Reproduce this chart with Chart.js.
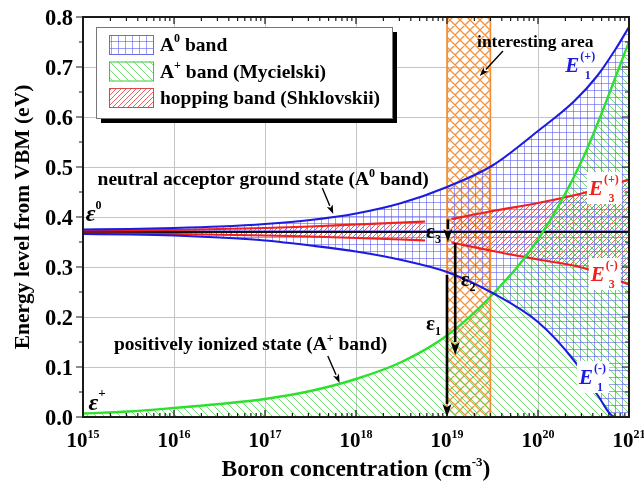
<!DOCTYPE html>
<html>
<head>
<meta charset="utf-8">
<script src="https://cdn.jsdelivr.net/npm/chart.js@4.4.1/dist/chart.umd.min.js"></script>
<style>
  html, body { margin: 0; padding: 0; background: #ffffff; }
  canvas { display: block; }
</style>
</head>
<body>
<canvas id="chart" width="644" height="490"></canvas>
<script>
// ---- data (x values are log10 of the boron concentration in cm^-3, y in eV) ----
const xTickExponents = [15, 16, 17, 18, 19, 20, 21];
const yTickLabels = ['0.0', '0.1', '0.2', '0.3', '0.4', '0.5', '0.6', '0.7', '0.8'];

// A0 band edges E1(+) / E1(-)
const a0X     = [15, 15.5, 16, 16.5, 17, 17.5, 18, 18.5, 19, 19.5, 20, 20.4, 20.65, 20.85, 21];
const e1Upper = [0.375, 0.376, 0.378, 0.381, 0.386, 0.394, 0.407, 0.428, 0.46, 0.503, 0.572, 0.632, 0.682, 0.735, 0.78];
const e1Lower = [0.366, 0.365, 0.363, 0.359, 0.353, 0.343, 0.331, 0.314, 0.29, 0.248, 0.19, 0.112, 0.045, 0.0, 0.0];

// A+ band (Mycielski)
const aPlusX = [15, 15.5, 16, 16.5, 17, 17.5, 18, 18.5, 19, 19.5, 20, 20.5, 21];
const aPlusE = [0.007, 0.011, 0.018, 0.026, 0.036, 0.052, 0.076, 0.11, 0.163, 0.245, 0.355, 0.52, 0.75];

// hopping band (Shklovskii), below and above the interesting area
const hopLowX      = [15, 16, 17, 17.5, 18, 18.5, 18.76];
const hopLowUpper  = [0.373, 0.374, 0.378, 0.381, 0.385, 0.389, 0.391];
const hopLowLower  = [0.367, 0.366, 0.363, 0.361, 0.358, 0.355, 0.353];
const hopHighX     = [19.05, 19.5, 20, 20.5, 21];
const hopHighUpper = [0.396, 0.412, 0.428, 0.448, 0.475];
const hopHighLower = [0.349, 0.332, 0.315, 0.298, 0.265];

// isolated acceptor ground level and the highlighted concentration window
const groundLevel = 0.37;
const interestingRange = [19, 19.477];

// energy gaps marked at N = 1e19 (eps1, eps2, eps3)
const gapX    = [19, 19.09, 19.01];
const gapFrom = [0.284, 0.348, 0.395];
const gapTo   = [0.0, 0.124, 0.35];

// ---- helpers ----
const pts = (xs, ys) => xs.map((e, i) => ({ x: Math.pow(10, e), y: ys[i] }));
const baseCtx = document.getElementById('chart').getContext('2d');

function hatch(size, color, width, kinds) {
  const cv = document.createElement('canvas');
  cv.width = cv.height = size;
  const g = cv.getContext('2d');
  g.strokeStyle = color;
  g.lineWidth = width;
  g.beginPath();
  kinds.forEach(k => {
    if (k === 'h') { g.moveTo(0, size - 0.5); g.lineTo(size, size - 0.5); }
    if (k === 'v') { g.moveTo(size - 0.5, 0); g.lineTo(size - 0.5, size); }
    if (k === '/') { [-size, 0, size].forEach(o => { g.moveTo(o, size); g.lineTo(o + size, 0); }); }
    if (k === '\\') { [-size, 0, size].forEach(o => { g.moveTo(o, 0); g.lineTo(o + size, size); }); }
  });
  g.stroke();
  return baseCtx.createPattern(cv, 'repeat');
}

const BLUE = '#1c1ce0', GREEN = '#2ee02e', RED = '#ee2020', ORANGE = '#f08c34';
const gridPattern   = hatch(7, 'rgba(95,95,240,0.6)', 1, ['h', 'v']);
const greenPattern  = hatch(8, 'rgba(70,210,70,0.75)', 1, ['\\']);
const redPattern    = hatch(5, 'rgba(235,55,55,0.8)', 1, ['/']);
const orangePattern = hatch(10, 'rgba(240,140,52,0.95)', 1.3, ['/', '\\']);

const SERIF = '"Liberation Serif", "Times New Roman", serif';

// draws a run of text pieces: [text, size, dy, style]
function rich(ctx, x, y, parts, align, color) {
  let total = 0;
  const widths = parts.map(p => {
    ctx.font = (p[3] || 'bold') + ' ' + p[1] + 'px ' + SERIF;
    const w = ctx.measureText(p[0]).width;
    total += w;
    return w;
  });
  let cx = align === 'center' ? x - total / 2 : (align === 'right' ? x - total : x);
  ctx.textAlign = 'left';
  ctx.textBaseline = 'alphabetic';
  ctx.fillStyle = color || '#000';
  parts.forEach((p, i) => {
    ctx.font = (p[3] || 'bold') + ' ' + p[1] + 'px ' + SERIF;
    ctx.fillText(p[0], cx, y + (p[2] || 0));
    cx += widths[i];
  });
  return total;
}

function arrow(ctx, x1, y1, x2, y2, lw, hl, hw) {
  const a = Math.atan2(y2 - y1, x2 - x1);
  const bx = x2 - hl * Math.cos(a), by = y2 - hl * Math.sin(a);
  ctx.strokeStyle = '#000';
  ctx.fillStyle = '#000';
  ctx.lineWidth = lw;
  ctx.beginPath();
  ctx.moveTo(x1, y1);
  ctx.lineTo(bx, by);
  ctx.stroke();
  ctx.beginPath();
  ctx.moveTo(x2, y2);
  ctx.lineTo(bx + hw * Math.sin(a), by - hw * Math.cos(a));
  ctx.lineTo(bx + hl * 0.25 * Math.cos(a), by + hl * 0.25 * Math.sin(a));
  ctx.lineTo(bx - hw * Math.sin(a), by + hw * Math.cos(a));
  ctx.closePath();
  ctx.fill();
}

// E label with stacked superscript and subscript
function energyLabel(ctx, x, cy, sup, sub, color, bg) {
  ctx.font = 'italic bold 21px ' + SERIF;
  const wE = ctx.measureText('E').width;
  ctx.font = 'bold 12px ' + SERIF;
  const wS = Math.max(ctx.measureText(sup).width, ctx.measureText(sub).width);
  if (bg) {
    ctx.fillStyle = '#fff';
    ctx.fillRect(x - 2, cy - 16, wE + wS + 6, 32);
  }
  ctx.fillStyle = color;
  ctx.textAlign = 'left';
  ctx.textBaseline = 'alphabetic';
  ctx.font = 'italic bold 21px ' + SERIF;
  ctx.fillText('E', x, cy + 7);
  ctx.font = 'bold 12px ' + SERIF;
  ctx.textAlign = 'center';
  ctx.fillText(sup, x + wE + wS / 2 + 1, cy - 5);
  ctx.fillText(sub, x + wE + wS / 2 + 1, cy + 14);
}

// ---- decorations: frame, ticks, labels, notes, legend ----
const decorations = {
  id: 'decorations',
  afterDraw(chart) {
    const ctx = chart.ctx;
    const a = chart.chartArea;
    const xs = chart.scales.x, ys = chart.scales.y;
    const X = e => xs.getPixelForValue(Math.pow(10, e));
    const Y = v => ys.getPixelForValue(v);
    ctx.save();

    // gap arrows
    gapX.forEach((e, i) => arrow(ctx, X(e), Y(gapFrom[i]), X(e), Y(gapTo[i]), 2.6, 13, 4.5));

    // frame
    ctx.strokeStyle = '#1a1a1a';
    ctx.lineWidth = 2;
    ctx.strokeRect(a.left, a.top, a.right - a.left, a.bottom - a.top);

    // x ticks (inward, top and bottom)
    ctx.lineWidth = 1.2;
    ctx.beginPath();
    for (let d = 15; d <= 21; d++) {
      for (let m = 1; m <= 9; m++) {
        if (d === 21 && m > 1) break;
        const px = xs.getPixelForValue(m * Math.pow(10, d));
        const len = m === 1 ? 7 : 4;
        ctx.moveTo(px, a.bottom); ctx.lineTo(px, a.bottom - len);
        ctx.moveTo(px, a.top); ctx.lineTo(px, a.top + len);
      }
    }
    // y ticks (outward on the left, inward on the right)
    for (let k = 0; k <= 16; k++) {
      const py = Y(k * 0.05);
      const len = k % 2 === 0 ? 7 : 4;
      ctx.moveTo(a.left, py); ctx.lineTo(a.left - len, py);
      ctx.moveTo(a.right, py); ctx.lineTo(a.right - len, py);
    }
    ctx.stroke();

    // tick labels
    yTickLabels.forEach(t => {
      rich(ctx, a.left - 10, Y(parseFloat(t)) + 8, [[t, 22.5]], 'right');
    });
    xTickExponents.forEach(e => {
      rich(ctx, X(e), a.bottom + 30, [['10', 21], [String(e), 12, -9]], 'center');
    });

    // axis titles
    rich(ctx, (a.left + a.right) / 2, 476, [['Boron concentration (cm', 23.5], ['-3', 13, -10], [')', 23.5]], 'center');
    ctx.save();
    ctx.translate(29, (a.top + a.bottom) / 2);
    ctx.rotate(-Math.PI / 2);
    rich(ctx, 0, 0, [['Energy level from VBM (eV)', 21.5]], 'center');
    ctx.restore();

    // state names with pointers
    rich(ctx, X(15.16), Y(0.464), [['neutral acceptor ground state (A', 19.5], ['0', 12, -8], [' band)', 19.5]], 'left');
    arrow(ctx, X(17.63), Y(0.458), X(17.75), Y(0.406), 1.4, 9, 3.2);
    rich(ctx, X(15.34), Y(0.134), [['positively ionized state (A', 19.5], ['+', 12, -8], [' band)', 19.5]], 'left');
    arrow(ctx, X(17.69), Y(0.122), X(17.82), Y(0.068), 1.4, 9, 3.2);
    rich(ctx, X(19.33), Y(0.74), [['interesting area', 17.5]], 'left');
    arrow(ctx, X(19.615), Y(0.732), X(19.36), Y(0.682), 1.4, 9, 3.2);

    // epsilon levels
    rich(ctx, X(15.03), Y(0.408) + 8, [['\u03b5', 24, 0, 'italic bold'], ['0', 12, -12]], 'left');
    rich(ctx, X(15.06), Y(0.03) + 8, [['\u03b5', 24, 0, 'italic bold'], ['+', 13, -13]], 'left');
    rich(ctx, X(18.77), Y(0.37) + 6, [['\u03b5', 21], ['3', 12, 5]], 'left');
    rich(ctx, X(19.15), Y(0.274) + 6, [['\u03b5', 21], ['2', 12, 5]], 'left');
    rich(ctx, X(18.77), Y(0.186) + 6, [['\u03b5', 21], ['1', 12, 5]], 'left');

    // band edge names
    energyLabel(ctx, X(20.3), Y(0.705), '(+)', '1', BLUE, false);
    energyLabel(ctx, X(20.56), Y(0.458), '(+)', '3', RED, true);
    energyLabel(ctx, X(20.58), Y(0.286), '(-)', '3', RED, true);
    energyLabel(ctx, X(20.45), Y(0.08), '(-)', '1', BLUE, true);

    // legend
    const lx = 96, ly = 27, lw = 296, lh = 91;
    ctx.fillStyle = '#000';
    ctx.fillRect(lx + 5, ly + 5, lw, lh);
    ctx.fillStyle = '#fff';
    ctx.fillRect(lx, ly, lw, lh);
    ctx.strokeStyle = '#777';
    ctx.lineWidth = 1;
    ctx.strokeRect(lx + 0.5, ly + 0.5, lw, lh);
    const items = [
      [gridPattern, '#6a6ae8', [['A', 19.5], ['0', 12, -9], [' band', 19.5]]],
      [greenPattern, '#3cc83c', [['A', 19.5], ['+', 12, -9], [' band (Mycielski)', 19.5]]],
      [redPattern, '#d84848', [['hopping band (Shklovskii)', 19.5]]]
    ];
    items.forEach((it, i) => {
      const sy = ly + 8 + i * 26.5;
      ctx.fillStyle = it[0];
      ctx.fillRect(109, sy, 44, 19);
      ctx.strokeStyle = it[1];
      ctx.lineWidth = 1;
      ctx.strokeRect(109.5, sy + 0.5, 44, 19);
      rich(ctx, 160, sy + 16, it[2], 'left');
    });

    ctx.restore();
  }
};

const lineStyle = (color, w) => ({
  borderColor: color, borderWidth: w, pointRadius: 0,
  cubicInterpolationMode: 'monotone', fill: false
});

new Chart(baseCtx, {
  type: 'line',
  data: {
    datasets: [
      Object.assign(lineStyle(BLUE, 2.1), { label: 'E1(+)', data: pts(a0X, e1Upper), fill: { target: 1 }, backgroundColor: gridPattern }),
      Object.assign(lineStyle(BLUE, 2.1), { label: 'E1(-)', data: pts(a0X, e1Lower) }),
      Object.assign(lineStyle(GREEN, 2.4), { label: 'A+ band', data: pts(aPlusX, aPlusE), fill: 'origin', backgroundColor: greenPattern }),
      Object.assign(lineStyle(RED, 2.2), { label: 'E3(+) low', data: pts(hopLowX, hopLowUpper), fill: { target: 4 }, backgroundColor: redPattern }),
      Object.assign(lineStyle(RED, 2.2), { label: 'E3(-) low', data: pts(hopLowX, hopLowLower) }),
      Object.assign(lineStyle(RED, 2.2), { label: 'E3(+)', data: pts(hopHighX, hopHighUpper), fill: { target: 6 }, backgroundColor: redPattern }),
      Object.assign(lineStyle(RED, 2.2), { label: 'E3(-)', data: pts(hopHighX, hopHighLower) }),
      Object.assign(lineStyle('#111', 2), { label: 'ground level', data: pts([15, 21], [groundLevel, groundLevel]) }),
      {
        label: 'interesting area',
        data: pts([interestingRange[0], interestingRange[0], interestingRange[1], interestingRange[1]], [0, 0.8, 0.8, 0]),
        borderColor: ORANGE, borderWidth: 1.6, pointRadius: 0, tension: 0,
        fill: 'origin', backgroundColor: orangePattern
      }
    ]
  },
  options: {
    responsive: false,
    animation: false,
    layout: { padding: { left: 83, right: 15, top: 17, bottom: 73 } },
    plugins: {
      legend: { display: false },
      tooltip: { enabled: false },
      filler: { drawTime: 'beforeDatasetsDraw', propagate: false }
    },
    scales: {
      x: {
        type: 'logarithmic', min: 1e15, max: 1e21,
        afterBuildTicks: s => { s.ticks = xTickExponents.map(e => ({ value: Math.pow(10, e) })); },
        ticks: { display: false },
        grid: { color: '#c4c4c4', lineWidth: 1, drawTicks: false },
        border: { display: false }
      },
      y: {
        type: 'linear', min: 0, max: 0.8,
        ticks: { display: false, stepSize: 0.1 },
        grid: { color: '#c4c4c4', lineWidth: 1, drawTicks: false },
        border: { display: false }
      }
    }
  },
  plugins: [decorations]
});
</script>
</body>
</html>
